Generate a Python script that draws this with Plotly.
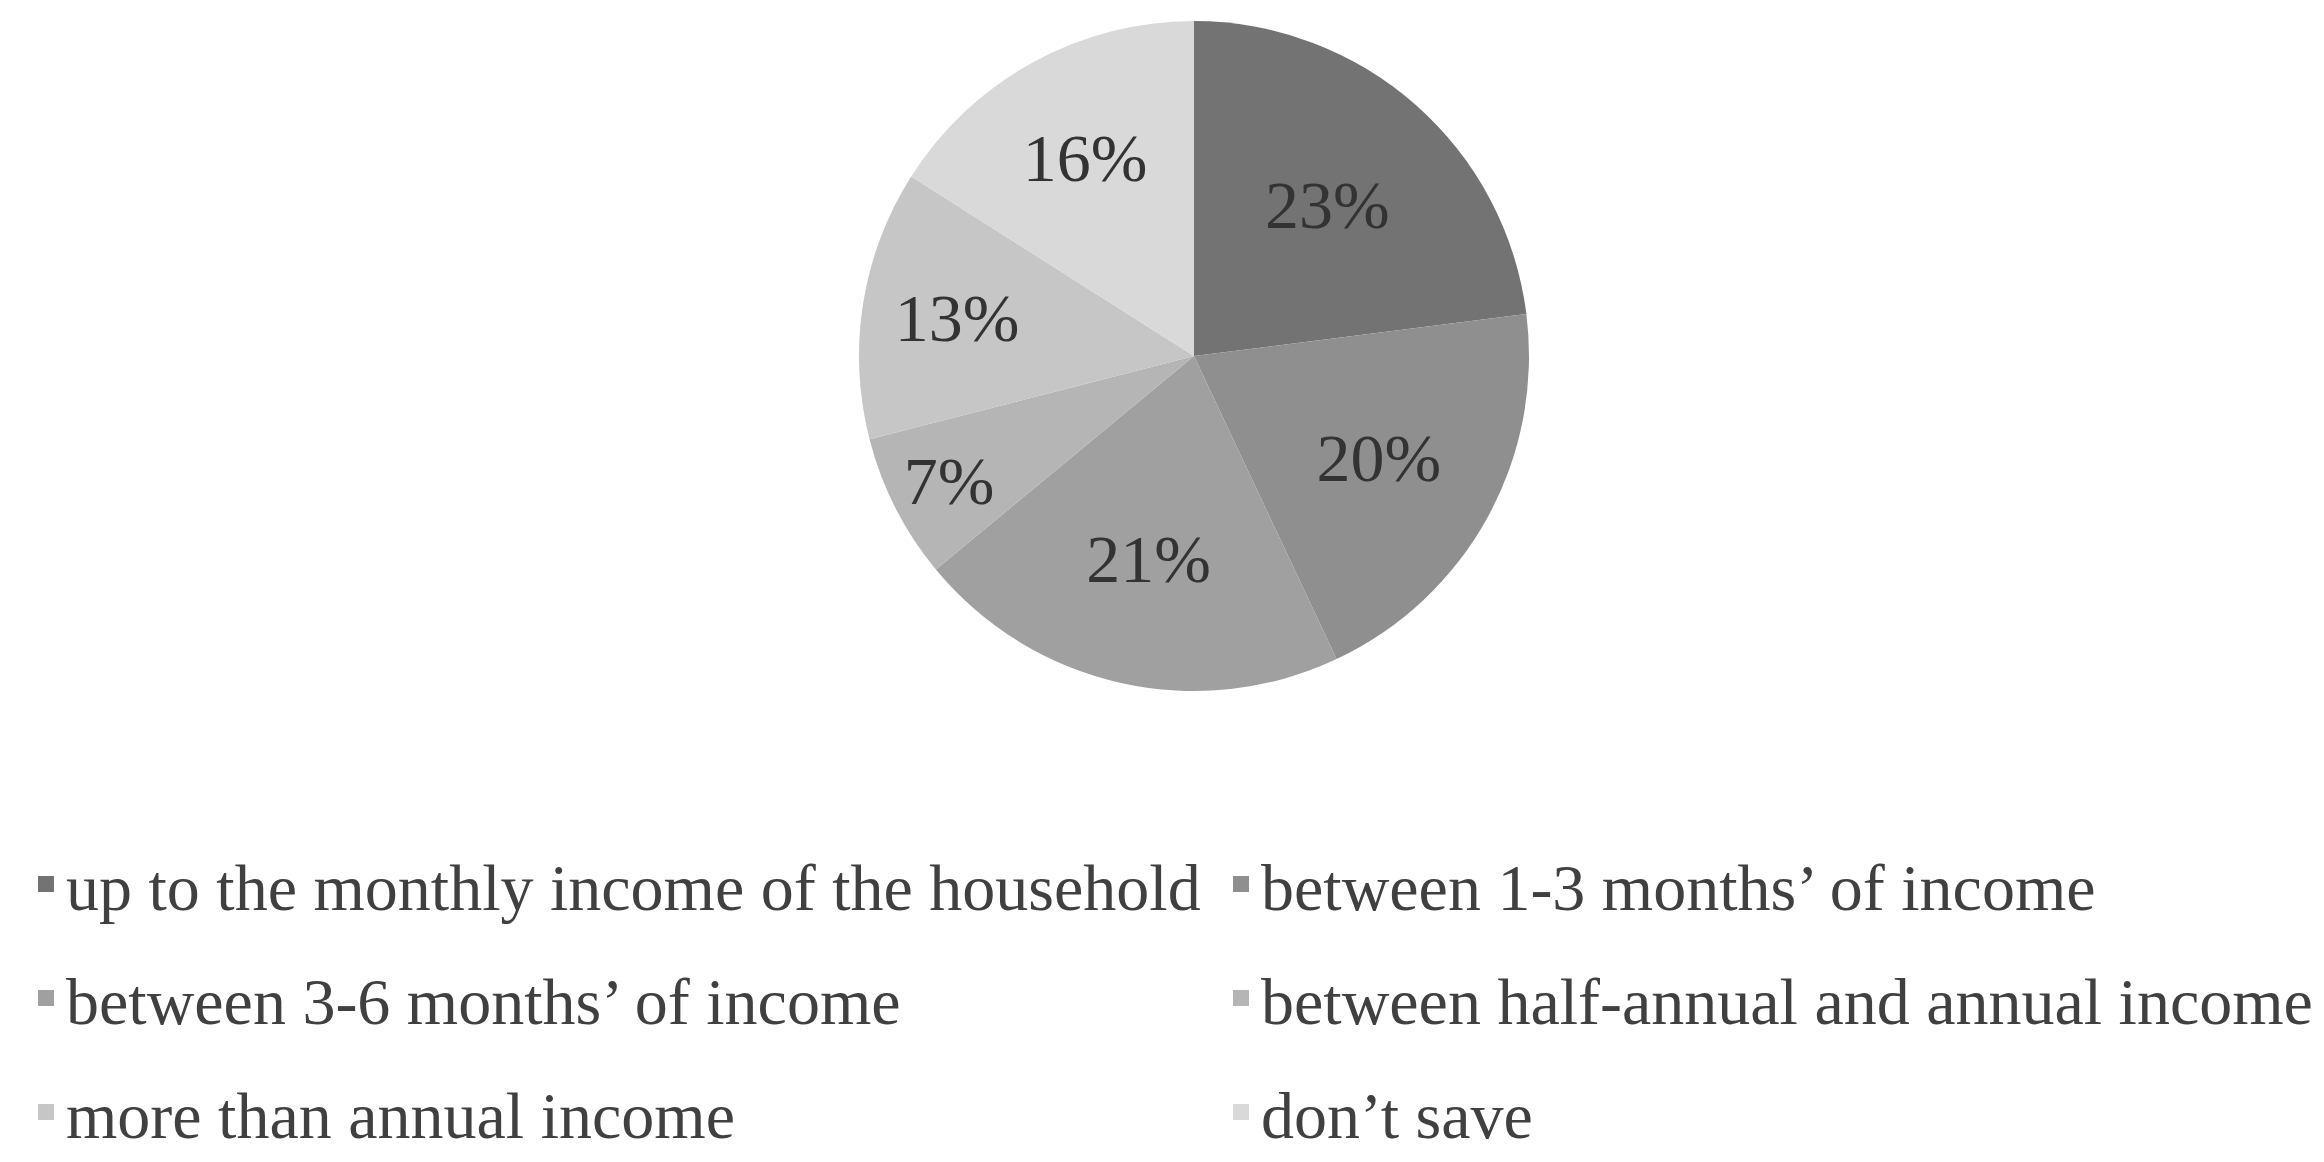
import plotly.graph_objects as go

labels = [
    "up to the monthly income of the household",
    "between 1-3 months\u2019 of income",
    "between 3-6 months\u2019 of income",
    "between half-annual and annual income",
    "more than annual income",
    "don\u2019t save",
]
shares = [23, 20, 21, 7, 13, 16]
colors = ["#737373", "#8f8f8f", "#a0a0a0", "#b5b5b5", "#c6c6c6", "#d9d9d9"]

W, H = 2324, 1162
FONT = "Liberation Serif, Times New Roman, serif"

# pie placement (px)
cx, cy, half = 1186, 348, 335

fig = go.Figure()

fig.add_trace(go.Pie(
    labels=labels,
    values=shares,
    sort=False,
    direction="clockwise",
    rotation=0,
    marker=dict(colors=colors, line=dict(width=0)),
    texttemplate="%{percent:.0%}",
    textposition="inside",
    insidetextorientation="horizontal",
    insidetextfont=dict(family=FONT, size=68, color="#333333"),
    domain=dict(x=[(cx - half) / W, (cx + half) / W],
                y=[(H - cy - half) / H, (H - cy + half) / H]),
    showlegend=False,
    hoverinfo="label+percent",
))

# one legend per entry: two columns, three rows
legend_ids = ["legend", "legend2", "legend3", "legend4", "legend5", "legend6"]
col_x = [18, 1213]
row_y = [876, 990, 1104]

for i, (lab, col) in enumerate(zip(labels, colors)):
    fig.add_trace(go.Scatter(
        x=[None], y=[None], mode="markers", name=lab,
        marker=dict(symbol="square", size=16, color=col),
        legend=legend_ids[i], showlegend=True, hoverinfo="skip",
    ))

layout_legends = {}
for i, lid in enumerate(legend_ids):
    layout_legends[lid] = dict(
        orientation="h",
        x=col_x[i % 2] / W, xanchor="left",
        y=(H - row_y[i // 2]) / H, yanchor="middle",
        font=dict(family=FONT, size=66, color="#404040"),
        bgcolor="rgba(0,0,0,0)", itemclick=False, itemdoubleclick=False,
    )

fig.update_layout(
    width=W, height=H,
    margin=dict(l=0, r=0, t=0, b=0),
    paper_bgcolor="white", plot_bgcolor="white",
    xaxis=dict(visible=False), yaxis=dict(visible=False),
    uniformtext=dict(minsize=60, mode="show"),
    **layout_legends,
)

fig.write_html("out.html")
